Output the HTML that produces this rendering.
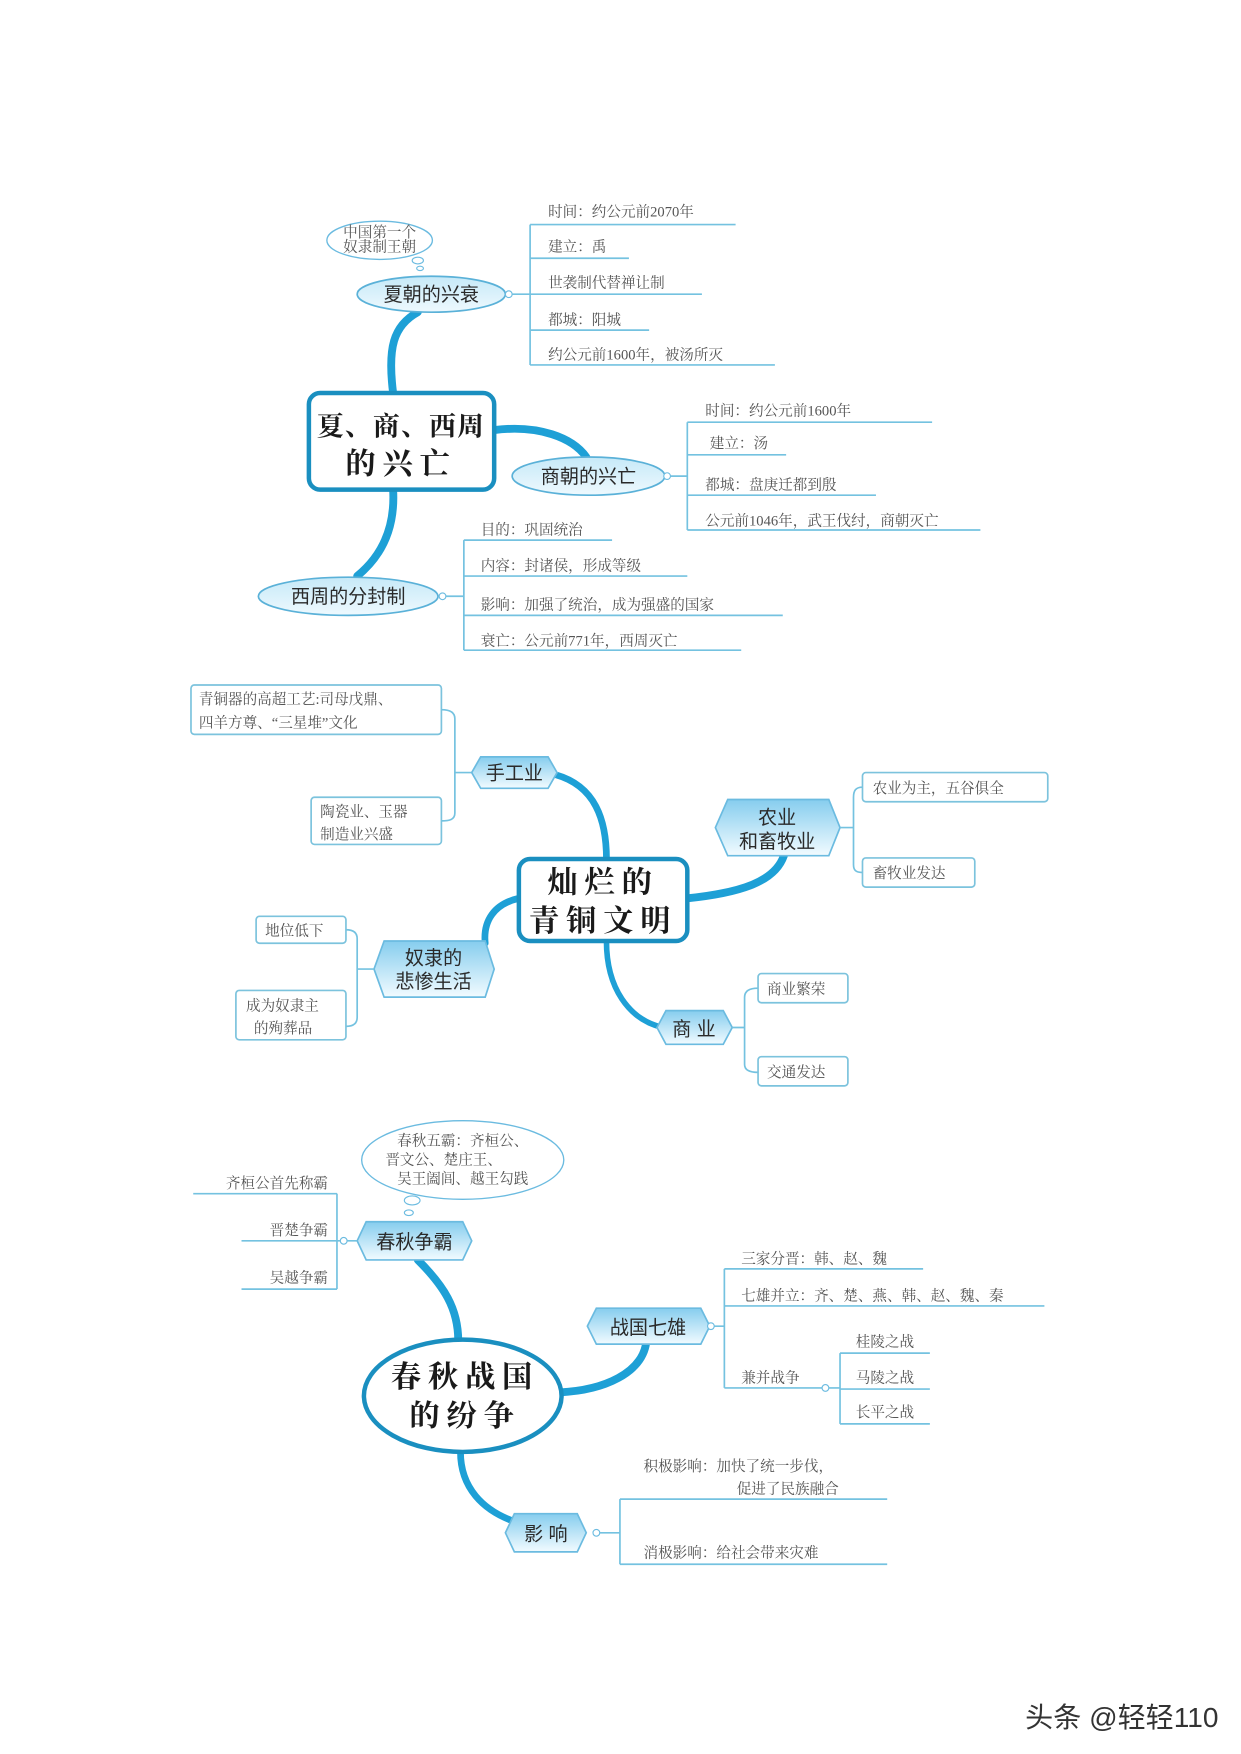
<!DOCTYPE html>
<html><head><meta charset="utf-8">
<style>
html,body{margin:0;padding:0;background:#fff;}
svg{display:block;}
.leaf{font-family:"Liberation Serif","Noto Serif CJK SC",serif;fill:#555;font-size:13px;}
.node{font-family:"Liberation Sans","Noto Sans CJK SC",sans-serif;fill:#2a2a2a;font-size:17px;}
.big{font-family:"Liberation Serif","Noto Serif CJK SC",serif;fill:#1a1a1a;font-size:27px;font-weight:bold;letter-spacing:6px;}
.ul{stroke:#74c2e0;stroke-width:1.5;fill:none;}
.br{stroke:#74c2e0;stroke-width:1.5;fill:none;}
.con{stroke:#1ea0d6;fill:none;stroke-linecap:round;}
.box{fill:#fff;stroke:#7cc3dd;stroke-width:1.5;}
.hex{fill:url(#hg);stroke:#6bbbe0;stroke-width:1.5;}
.ell{fill:url(#eg);stroke:#5ab1d8;stroke-width:1.5;}
</style></head><body>
<svg width="1241" height="1754" viewBox="0 0 1105 1562" xmlns="http://www.w3.org/2000/svg">
<defs>
<linearGradient id="hg" x1="0" y1="0" x2="0" y2="1"><stop offset="0" stop-color="#86cdee"/><stop offset="1" stop-color="#f2fbff"/></linearGradient>
<linearGradient id="eg" x1="0" y1="0" x2="0" y2="1"><stop offset="0" stop-color="#c6e9f8"/><stop offset="1" stop-color="#eef9fe"/></linearGradient>
</defs>

<!-- ===== Section 1 ===== -->
<path class="con" stroke-width="7" d="M350 350 C345 310 350 290 372 278"/>
<path class="con" stroke-width="7" d="M440 383 C480 378 510 390 522 407"/>
<path class="con" stroke-width="7" d="M350 436 C352 470 340 495 318 513"/>

<rect x="275" y="350" width="165" height="86" rx="10" fill="#fff" stroke="#1a8fc0" stroke-width="4"/>
<text class="big" x="357" y="388" text-anchor="middle" style="font-size:24px;letter-spacing:1px">夏、商、西周</text>
<text class="big" x="357" y="422" text-anchor="middle">的兴亡</text>

<ellipse cx="338" cy="214" rx="47" ry="17" fill="#fff" stroke="#6bbbe0" stroke-width="1.2"/>
<text class="leaf" x="338" y="211" text-anchor="middle" font-size="9.5">中国第一个</text>
<text class="leaf" x="338" y="224" text-anchor="middle" font-size="9.5">奴隶制王朝</text>
<ellipse cx="372" cy="232" rx="5" ry="3" fill="#fff" stroke="#6bbbe0"/>
<ellipse cx="374" cy="239" rx="3" ry="2" fill="#fff" stroke="#6bbbe0"/>

<ellipse class="ell" cx="384" cy="262" rx="66" ry="16"/>
<text class="node" x="384" y="268" text-anchor="middle">夏朝的兴衰</text>
<circle cx="453" cy="262" r="3" fill="#fff" stroke="#6bbbe0"/>
<path class="br" d="M456 262 H472 M472 200 V325"/>
<path class="ul" d="M472 200 H655 M472 230 H560 M472 262 H625 M472 294 H578 M472 325 H690"/>
<text class="leaf" x="488" y="193">时间：约公元前2070年</text>
<text class="leaf" x="488" y="224">建立：禹</text>
<text class="leaf" x="488" y="256">世袭制代替禅让制</text>
<text class="leaf" x="488" y="289">都城：阳城</text>
<text class="leaf" x="488" y="320">约公元前1600年，被汤所灭</text>

<ellipse class="ell" cx="524" cy="424" rx="68" ry="17"/>
<text class="node" x="524" y="430" text-anchor="middle">商朝的兴亡</text>
<circle cx="594" cy="424" r="3" fill="#fff" stroke="#6bbbe0"/>
<path class="br" d="M597 424 H612 M612 376 V472"/>
<path class="ul" d="M612 376 H830 M612 405 H700 M612 441 H780 M612 472 H873"/>
<text class="leaf" x="628" y="370">时间：约公元前1600年</text>
<text class="leaf" x="632" y="399">建立：汤</text>
<text class="leaf" x="628" y="436">都城：盘庚迁都到殷</text>
<text class="leaf" x="628" y="468">公元前1046年，武王伐纣，商朝灭亡</text>

<ellipse class="ell" cx="310" cy="531" rx="80" ry="17"/>
<text class="node" x="310" y="537" text-anchor="middle">西周的分封制</text>
<circle cx="394" cy="531" r="3" fill="#fff" stroke="#6bbbe0"/>
<path class="br" d="M397 531 H413 M413 481 V579"/>
<path class="ul" d="M413 481 H545 M413 513 H612 M413 548 H697 M413 579 H660"/>
<text class="leaf" x="428" y="476">目的：巩固统治</text>
<text class="leaf" x="428" y="508">内容：封诸侯，形成等级</text>
<text class="leaf" x="428" y="543">影响：加强了统治，成为强盛的国家</text>
<text class="leaf" x="428" y="575">衰亡：公元前771年，西周灭亡</text>

<!-- ===== Section 2 ===== -->
<path class="con" stroke-width="6" d="M495 690 C530 700 540 730 540 765"/>
<path class="con" stroke-width="7" d="M612 800 C660 795 690 785 698 762"/>
<path class="con" stroke-width="6" d="M462 800 C440 805 430 820 432 840"/>
<path class="con" stroke-width="5" d="M540 838 C540 880 560 908 590 915"/>

<rect x="462" y="765" width="150" height="73" rx="10" fill="#fff" stroke="#1a8fc0" stroke-width="4"/>
<text class="big" x="537" y="795" text-anchor="middle">灿烂的</text>
<text class="big" x="537" y="829" text-anchor="middle">青铜文明</text>

<rect class="box" x="170" y="610" width="223" height="44" rx="3"/>
<text class="leaf" x="177" y="627" font-size="14">青铜器的高超工艺:司母戊鼎、</text>
<text class="leaf" x="177" y="648" font-size="14">四羊方尊、“三星堆”文化</text>
<rect class="box" x="277" y="710" width="116" height="42" rx="3"/>
<text class="leaf" x="285" y="727" font-size="14">陶瓷业、玉器</text>
<text class="leaf" x="285" y="747" font-size="14">制造业兴盛</text>
<path class="br" d="M393 632 C400 632 405 634 405 640 V724 C405 730 400 731 393 731 M405 688 H420"/>
<polygon class="hex" points="420,688 428,674 488,674 496,688 488,702 428,702"/>
<text class="node" x="458" y="694" text-anchor="middle">手工业</text>

<polygon class="hex" points="637,737 648,712 738,712 748,737 738,762 648,762"/>
<text class="node" x="692" y="734" text-anchor="middle">农业</text>
<text class="node" x="692" y="755" text-anchor="middle">和畜牧业</text>
<path class="br" d="M748 737 H760 M768 701 C762 701 760 704 760 710 V770 C760 775 762 777 768 777"/>
<rect class="box" x="768" y="688" width="165" height="26" rx="3"/>
<text class="leaf" x="777" y="706" font-size="14">农业为主，五谷俱全</text>
<rect class="box" x="768" y="764" width="100" height="26" rx="3"/>
<text class="leaf" x="777" y="782" font-size="14">畜牧业发达</text>

<polygon class="hex" points="333,863 342,838 432,838 440,863 432,888 342,888"/>
<text class="node" x="386" y="859" text-anchor="middle">奴隶的</text>
<text class="node" x="386" y="880" text-anchor="middle">悲惨生活</text>
<path class="br" d="M333 863 H318 M308 828 C314 828 318 830 318 836 V906 C318 912 314 914 308 914"/>
<rect class="box" x="228" y="816" width="80" height="24" rx="3"/>
<text class="leaf" x="236" y="833" font-size="14">地位低下</text>
<rect class="box" x="210" y="882" width="98" height="44" rx="3"/>
<text class="leaf" x="219" y="900" font-size="14">成为奴隶主</text>
<text class="leaf" x="226" y="920" font-size="14">的殉葬品</text>

<polygon class="hex" points="585,915 593,900 644,900 652,915 644,930 593,930"/>
<text class="node" x="618" y="922" text-anchor="middle">商 业</text>
<path class="br" d="M652 915 H663 M675 880 C668 880 663 882 663 888 V948 C663 953 668 955 675 955"/>
<rect class="box" x="675" y="867" width="80" height="26" rx="3"/>
<text class="leaf" x="683" y="885" font-size="14">商业繁荣</text>
<rect class="box" x="675" y="941" width="80" height="26" rx="3"/>
<text class="leaf" x="683" y="959" font-size="14">交通发达</text>

<!-- ===== Section 3 ===== -->
<path class="con" stroke-width="7" d="M372 1122 C395 1145 408 1165 408 1194"/>
<path class="con" stroke-width="7" d="M498 1240 C540 1238 570 1222 575 1198"/>
<path class="con" stroke-width="6" d="M410 1293 C410 1325 430 1345 458 1355"/>

<ellipse cx="412" cy="1243" rx="88" ry="50" fill="#fff" stroke="#1a8fc0" stroke-width="4"/>
<text class="big" x="414" y="1235" text-anchor="middle">春秋战国</text>
<text class="big" x="414" y="1270" text-anchor="middle">的纷争</text>

<ellipse cx="412" cy="1033" rx="90" ry="35" fill="#fff" stroke="#6bbbe0" stroke-width="1.2"/>
<text class="leaf" x="412" y="1020" text-anchor="middle" font-size="11">春秋五霸：齐桓公、</text>
<text class="leaf" x="395" y="1037" text-anchor="middle" font-size="11">晋文公、楚庄王、</text>
<text class="leaf" x="412" y="1054" text-anchor="middle" font-size="11">吴王阖闾、越王勾践</text>
<ellipse cx="367" cy="1069" rx="7" ry="4" fill="#fff" stroke="#6bbbe0"/>
<ellipse cx="364" cy="1080" rx="4" ry="2.5" fill="#fff" stroke="#6bbbe0"/>

<polygon class="hex" points="318,1105 326,1088 412,1088 420,1105 412,1122 326,1122"/>
<text class="node" x="369" y="1112" text-anchor="middle">春秋争霸</text>
<circle cx="306" cy="1105" r="3" fill="#fff" stroke="#6bbbe0"/>
<path class="br" d="M309 1105 H318 M300 1063 V1148"/>
<path class="ul" d="M172 1063 H300 M215 1105 H303 M215 1148 H300"/>
<text class="leaf" x="292" y="1058" text-anchor="end" font-size="14">齐桓公首先称霸</text>
<text class="leaf" x="292" y="1100" text-anchor="end" font-size="14">晋楚争霸</text>
<text class="leaf" x="292" y="1142" text-anchor="end" font-size="14">吴越争霸</text>

<polygon class="hex" points="523,1181 531,1165 624,1165 632,1181 624,1197 531,1197"/>
<text class="node" x="577" y="1188" text-anchor="middle">战国七雄</text>
<circle cx="633" cy="1181" r="3" fill="#fff" stroke="#6bbbe0"/>
<path class="br" d="M636 1181 H645 M645 1130 V1236"/>
<path class="ul" d="M645 1130 H822 M645 1163 H930 M645 1236 H732"/>
<text class="leaf" x="660" y="1125" font-size="14">三家分晋：韩、赵、魏</text>
<text class="leaf" x="660" y="1158" font-size="14">七雄并立：齐、楚、燕、韩、赵、魏、秦</text>
<text class="leaf" x="660" y="1231" font-size="14">兼并战争</text>
<circle cx="735" cy="1236" r="3" fill="#fff" stroke="#6bbbe0"/>
<path class="br" d="M738 1236 H748 M748 1205 V1268"/>
<path class="ul" d="M748 1205 H828 M748 1237 H828 M748 1268 H828"/>
<text class="leaf" x="762" y="1199" font-size="12">桂陵之战</text>
<text class="leaf" x="762" y="1231" font-size="12">马陵之战</text>
<text class="leaf" x="762" y="1262" font-size="12">长平之战</text>

<polygon class="hex" points="450,1365 458,1348 514,1348 522,1365 514,1382 458,1382"/>
<text class="node" x="486" y="1372" text-anchor="middle">影 响</text>
<circle cx="531" cy="1365" r="3" fill="#fff" stroke="#6bbbe0"/>
<path class="br" d="M534 1365 H552 M552 1335 V1393"/>
<path class="ul" d="M552 1335 H790 M552 1393 H790"/>
<text class="leaf" x="573" y="1310" font-size="14">积极影响：加快了统一步伐，</text>
<text class="leaf" x="656" y="1330" font-size="14">促进了民族融合</text>
<text class="leaf" x="573" y="1387" font-size="14">消极影响：给社会带来灾难</text>

<text x="1085" y="1538" text-anchor="end" font-family="Liberation Sans,'Noto Sans CJK SC',sans-serif" font-size="25" fill="#333">头条 @轻轻110</text>
</svg>
</body></html>
